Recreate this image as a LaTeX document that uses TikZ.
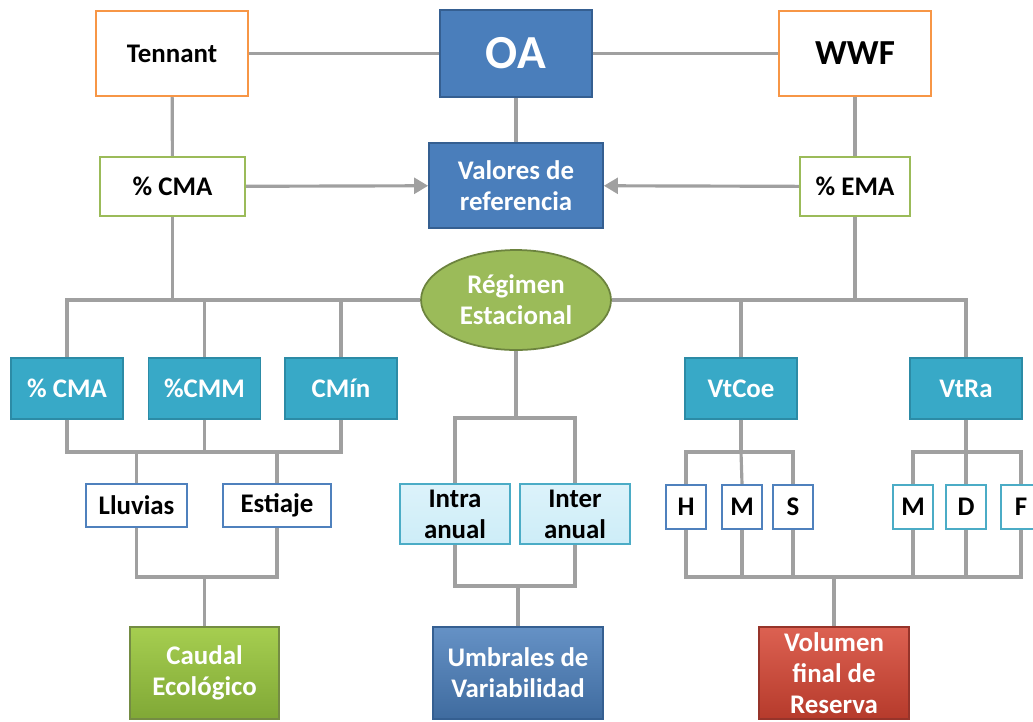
\documentclass[tikz,border=0pt]{standalone}
\usepackage{fontspec}
\setmainfont{Carlito}
\usetikzlibrary{shapes.geometric,arrows.meta}

\definecolor{lineg}{RGB}{160,160,160}
\definecolor{orng}{RGB}{247,150,70}
\definecolor{leaf}{RGB}{155,187,89}
\definecolor{leaftop}{RGB}{166,206,80}
\definecolor{leafbot}{RGB}{128,168,54}
\definecolor{oablue}{RGB}{74,126,187}
\definecolor{oaedge}{RGB}{53,95,145}
\definecolor{teal}{RGB}{56,169,199}
\definecolor{tealedge}{RGB}{44,139,166}
\definecolor{skyfill}{RGB}{205,237,248}
\definecolor{skyedge}{RGB}{75,172,198}
\definecolor{hmsedge}{RGB}{79,129,189}
\definecolor{redfill}{RGB}{214,69,51}
\definecolor{rededge}{RGB}{150,52,42}

\begin{document}
\begin{tikzpicture}[x=0.02cm,y=-0.02cm,
    >={Triangle[length=8pt,width=9pt]},
    txt/.style={font=\fontsize{15.3}{17.5}\selectfont\bfseries, align=center, inner sep=0pt},
    srcbox/.style={txt, draw=orng, line width=1.4pt, fill=white, minimum width=3.04cm, minimum height=1.70cm},
    pctbox/.style={txt, draw=leaf, line width=1.2pt, fill=white, minimum height=1.18cm},
    bluebox/.style={txt, draw=oaedge, line width=1pt, fill=oablue, text=white},
    tealbox/.style={txt, draw=tealedge, line width=0.8pt, fill=teal, text=white, minimum width=2.24cm, minimum height=1.22cm},
    seasbox/.style={txt, draw=hmsedge, line width=1.2pt, fill=white, minimum height=0.86cm},
    skybox/.style={txt, draw=skyedge, line width=1pt, top color=skyfill!70!white, bottom color=skyfill, minimum width=2.2cm, minimum height=1.2cm},
    letbox/.style={txt, line width=1.2pt, fill=white, minimum width=0.8cm, minimum height=0.88cm},
    endbox/.style={txt, line width=1pt, text=white, minimum height=1.84cm},
    conn/.style={draw=lineg, line width=1.8pt}]

\useasboundingbox (0,0) rectangle (1033,721);

% Top row
\node[srcbox] (tenn) at (172,53.5) {Tennant};
\node[bluebox, minimum width=3.04cm, minimum height=1.74cm, font=\fontsize{27}{30}\selectfont\bfseries] (oa) at (516,53.5) {OA};
\node[srcbox, font=\fontsize{20}{24}\selectfont\bfseries] (wwf) at (855,53.5) {WWF};

% Second row
\node[pctbox, minimum width=2.9cm] (pcma) at (172.5,186.5) {\% CMA};
\node[bluebox, minimum width=3.48cm, minimum height=1.70cm] (valref) at (516,185.5) {Valores de\\referencia};
\node[pctbox, minimum width=2.2cm] (pema) at (855,186.5) {\% EMA};

% Regimen (ellipse)
\node[txt, ellipse, draw=leaf!70!black, line width=1pt, fill=leaf, text=white, minimum width=3.8cm, minimum height=2.0cm] (reg) at (516,300) {Régimen\\Estacional};

% Teal row
\node[tealbox] (tcma) at (67,388.5) {\% CMA};
\node[tealbox] (tcmm) at (204.5,388.5) {\%CMM};
\node[tealbox] (cmin) at (341,388.5) {CMín};
\node[tealbox] (vtcoe) at (741,388.5) {VtCoe};
\node[tealbox] (vtra) at (966,388.5) {VtRa};

% Seasons and intervals
\node[seasbox, minimum width=2.02cm] (lluv) at (136.5,505.5) {Lluvias};
\node[seasbox, minimum width=2.16cm] (esti) at (277,505.5) {Estiaje};
\node[skybox, text=black] (intra) at (455,514) {Intra\\anual};
\node[skybox, text=black] (inter) at (575,514) {Inter\\anual};

% Letter boxes
\node[letbox, draw=hmsedge] (h) at (686,507) {H};
\node[letbox, draw=hmsedge] (m) at (742,507) {M};
\node[letbox, draw=hmsedge] (s) at (793,507) {S};
\node[letbox, draw=skyedge] (m2) at (913,507) {M};
\node[letbox, draw=skyedge] (d) at (966,507) {D};
\node[letbox, draw=skyedge] (f) at (1021,507) {F};

% Results
\node[endbox, draw=leaf!75!black, top color=leaftop, bottom color=leafbot, minimum width=2.98cm] (caudal) at (204.5,673) {Caudal\\Ecológico};
\node[endbox, draw=oaedge, top color=oablue!85!white, bottom color=oablue!85!black, minimum width=3.4cm] (umbral) at (518,673) {Umbrales de\\Variabilidad};
\node[endbox, draw=rededge, top color=redfill!85!white, bottom color=redfill!85!black, minimum width=3.0cm] (vol) at (834,673) {Volumen\\final de\\Reserva};

% Junction points
\coordinate (bus1) at (204.5,452);
\coordinate (bus2) at (204.5,577);
\coordinate (bus3) at (516,418);
\coordinate (bus4) at (518,586);
\coordinate (bus5) at (741,452);
\coordinate (bus6) at (966,452);
\coordinate (bus7) at (834,577);

% Top connectors
\draw[conn] (tenn) -- (oa);
\draw[conn] (oa) -- (wwf);
\draw[conn] (oa) -- (valref);
\draw[conn] (tenn) -- (pcma);
\draw[conn] (wwf) -- (pema);
\draw[conn, ->, lineg] (pcma) -- (valref);
\draw[conn, ->, lineg] (pema) -- (valref);

% Bus through the ellipse
\draw[conn] (tcma.north) |- (reg.west);
\draw[conn] (tcmm.north) -- (tcmm.north |- reg.west);
\draw[conn] (cmin.north) -- (cmin.north |- reg.west);
\draw[conn] (pcma.south) -- (pcma.south |- reg.west);
\draw[conn] (vtra.north) |- (reg.east);
\draw[conn] (vtcoe.north) -- (vtcoe.north |- reg.east);
\draw[conn] (pema.south) -- (pema.south |- reg.east);

% Left branch
\draw[conn] (tcma.south) |- (bus1) -| (cmin.south);
\draw[conn] (tcmm.south) -- (bus1);
\draw[conn] (lluv.north) -- (lluv.north |- bus1);
\draw[conn] (esti.north) -- (esti.north |- bus1);
\draw[conn] (lluv.south) |- (bus2) -| (esti.south);
\draw[conn] (bus2) -- (caudal.north);

% Middle branch
\draw[conn] (reg.south) -- (bus3);
\draw[conn] (intra.north) |- (bus3) -| (inter.north);
\draw[conn] (intra.south) |- (bus4) -| (inter.south);
\draw[conn] (bus4) -- (umbral.north);

% Right branch
\draw[conn] (vtcoe.south) -- (bus5);
\draw[conn] (h.north) |- (bus5) -| (s.north);
\draw[conn] (m.north) -- (bus5);
\draw[conn] (vtra.south) -- (bus6);
\draw[conn] (m2.north) |- (bus6) -| (f.north);
\draw[conn] (d.north) -- (bus6);
\draw[conn] (h.south) |- (bus7) -| (f.south);
\draw[conn] (m.south) -- (m.south |- bus7);
\draw[conn] (s.south) -- (s.south |- bus7);
\draw[conn] (m2.south) -- (m2.south |- bus7);
\draw[conn] (d.south) -- (d.south |- bus7);
\draw[conn] (bus7) -- (vol.north);

\end{tikzpicture}
\end{document}
